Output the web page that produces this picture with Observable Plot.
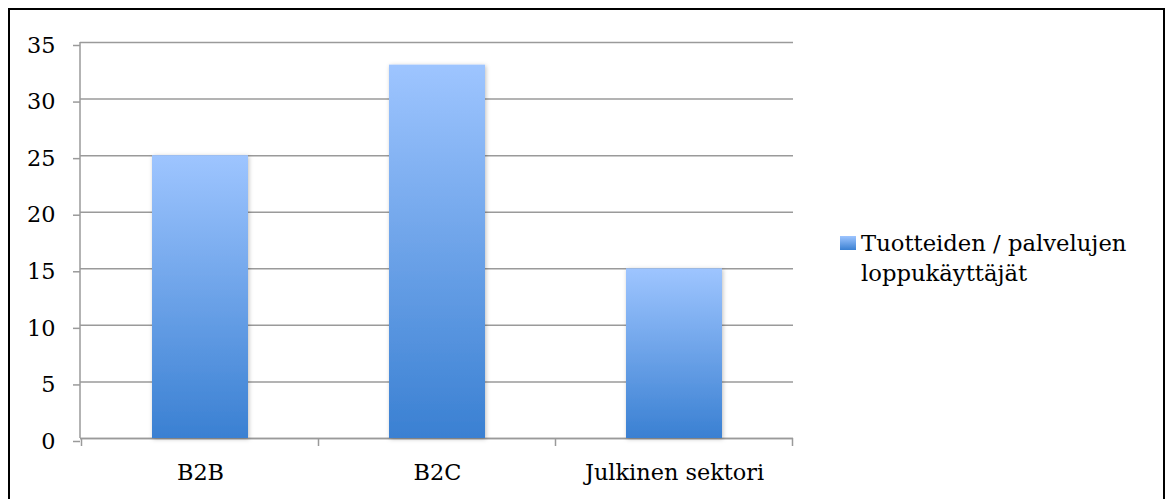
<!DOCTYPE html>
<html>
<head>
<meta charset="utf-8">
<script src="https://cdn.jsdelivr.net/npm/d3@7"></script>
<script src="https://cdn.jsdelivr.net/npm/@observablehq/plot@0.6"></script>
<style>
  html, body { margin: 0; padding: 0; background: #fff; overflow: hidden; }
  body { width: 1167px; height: 499px; position: relative; font-family: "DejaVu Serif", serif; }
  #frame { position: absolute; left: 8px; top: 8px; width: 1157px; height: 560px; border: 2px solid #000; box-sizing: border-box; }
  #chart { position: absolute; left: 0; top: 0; }
  #legend { position: absolute; left: 840px; top: 228px; display: flex; align-items: flex-start; font-size: 22.7px; line-height: 30px; color: #000; }
  #legend .swatch { width: 16px; height: 14px; margin-top: 8px; margin-right: 5px; background: linear-gradient(#9ec5ff, #3a80d2); }
</style>
</head>
<body>
<div id="frame"></div>
<div id="chart"></div>
<div id="legend"><div class="swatch"></div><div>Tuotteiden / palvelujen<br>loppukäyttäjät</div></div>
<script>
const categories = ["B2B", "B2C", "Julkinen sektori"];
const values = [25, 33, 15];
const yTicks = [0, 5, 10, 15, 20, 25, 30, 35];
const seriesName = "Tuotteiden / palvelujen loppukäyttäjät";

const data = categories.map((c, i) => ({category: c, value: values[i], series: seriesName}));

const W = 1167, H = 499;
const gridColor = "#9a9a9a";
const fontFamily = "DejaVu Serif, serif";

// y axis line plus the separator ticks at the category boundaries of the x axis
function axisLines(index, scales, values, dims) {
  const x = scales.x;
  const step = x.step();
  const bw = x.bandwidth();
  const y0 = dims.height - dims.marginBottom;
  const g = d3.create("svg:g").attr("stroke", gridColor).attr("stroke-width", 1.5);
  g.append("line")
    .attr("x1", dims.marginLeft).attr("x2", dims.marginLeft)
    .attr("y1", dims.marginTop).attr("y2", y0);
  const xs = categories.map(c => x(c) + bw / 2 - step / 2);
  xs.push(x(categories[categories.length - 1]) + bw / 2 + step / 2);
  for (const px of xs) {
    g.append("line")
      .attr("x1", px).attr("x2", px)
      .attr("y1", y0).attr("y2", y0 + 8);
  }
  return g.node();
}

const defs = () => {
  const s = d3.create("svg:defs");
  const lg = s.append("linearGradient").attr("id", "barGrad").attr("x1", 0).attr("y1", 0).attr("x2", 0).attr("y2", 1);
  lg.append("stop").attr("offset", "0%").attr("stop-color", "#9ec5ff");
  lg.append("stop").attr("offset", "100%").attr("stop-color", "#3a80d2");
  const f = s.append("filter").attr("id", "barShadow").attr("x", "-20%").attr("y", "-5%").attr("width", "140%").attr("height", "110%");
  f.append("feDropShadow").attr("dx", 1).attr("dy", 1).attr("stdDeviation", 2).attr("flood-color", "#000").attr("flood-opacity", 0.25);
  return s.node();
};

const chart = Plot.plot({
  width: W,
  height: H,
  marginLeft: 80,
  marginRight: 374,
  marginTop: 42,
  marginBottom: 61,
  style: {fontFamily, fontSize: "22.4px", color: "#000", background: "transparent"},
  x: {domain: categories, paddingInner: 0.596, paddingOuter: 0.298, label: null},
  y: {domain: [0, 35], label: null},
  marks: [
    defs,
    Plot.gridY(yTicks, {stroke: gridColor, strokeOpacity: 1, strokeWidth: 1.5}),
    Plot.axisY(yTicks, {tickSize: 7, tickPadding: 18, dy: 3, stroke: gridColor, strokeWidth: 1.5, fontSize: 22.4, fill: "#000"}),
    Plot.ruleY([0], {stroke: gridColor, strokeWidth: 1.5}),
    Plot.barY(data, {x: "category", y: "value", fill: "url(#barGrad)"}),
    axisLines,
    Plot.axisX({tickSize: 0, tickPadding: 26, fontSize: 22.4, fill: "#000"})
  ]
});
// soft drop shadow under the bars
chart.querySelectorAll("g[aria-label='bar']").forEach(g => g.setAttribute("filter", "url(#barShadow)"));
document.getElementById("chart").appendChild(chart);
</script>
</body>
</html>
